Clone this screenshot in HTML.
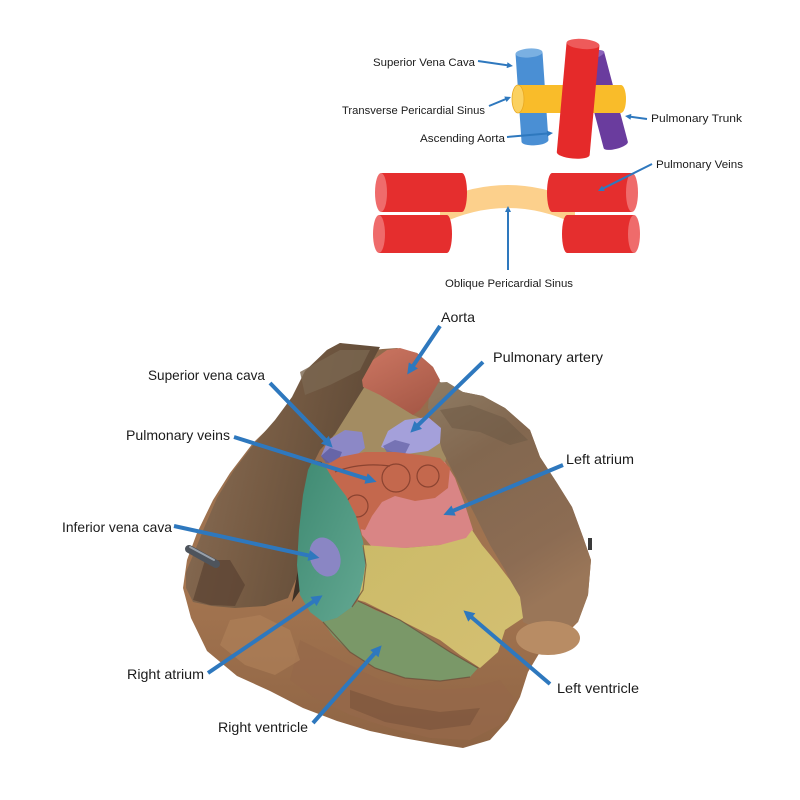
<!DOCTYPE html>
<html>
<head>
<meta charset="utf-8">
<style>
html,body{margin:0;padding:0;background:#fff;}
svg{display:block;}
text{font-family:"Liberation Sans",sans-serif;fill:#1b1b1b;}
</style>
</head>
<body>
<svg width="800" height="800" viewBox="0 0 800 800" xmlns="http://www.w3.org/2000/svg">
<defs>
  <marker id="ab" viewBox="0 0 10 10" refX="5" refY="5" markerWidth="12" markerHeight="11" markerUnits="userSpaceOnUse" orient="auto">
    <path d="M0,0 L10,5 L0,10 z" fill="#2e78be"/>
  </marker>
  <marker id="as" viewBox="0 0 10 10" refX="5" refY="5" markerWidth="7" markerHeight="6" markerUnits="userSpaceOnUse" orient="auto">
    <path d="M0,0 L10,5 L0,10 z" fill="#2e78be"/>
  </marker>
  <linearGradient id="gBase" x1="0" y1="0" x2="0" y2="1">
    <stop offset="0" stop-color="#8f6a4c"/>
    <stop offset="0.6" stop-color="#a47550"/>
    <stop offset="1" stop-color="#8e6444"/>
  </linearGradient>
  <linearGradient id="gLeft" x1="0" y1="0" x2="1" y2="0.3">
    <stop offset="0" stop-color="#8c7058"/>
    <stop offset="0.5" stop-color="#775c44"/>
    <stop offset="1" stop-color="#5e4936"/>
  </linearGradient>
  <linearGradient id="gRight" x1="0" y1="0" x2="0.4" y2="1">
    <stop offset="0" stop-color="#8e7c64"/>
    <stop offset="0.35" stop-color="#82674f"/>
    <stop offset="0.8" stop-color="#8c6c53"/>
    <stop offset="1" stop-color="#9a7658"/>
  </linearGradient>
  <linearGradient id="gAorta" x1="0" y1="0" x2="0.6" y2="1">
    <stop offset="0" stop-color="#cc7662"/>
    <stop offset="1" stop-color="#a85a48"/>
  </linearGradient>
  <linearGradient id="gYel" x1="0" y1="0" x2="1" y2="1">
    <stop offset="0" stop-color="#cbba68"/>
    <stop offset="1" stop-color="#d4c072"/>
  </linearGradient>
  <linearGradient id="gTeal" x1="0" y1="0" x2="1" y2="1">
    <stop offset="0" stop-color="#3f8a72"/>
    <stop offset="1" stop-color="#63a892"/>
  </linearGradient>
</defs>

<!-- ================= TOP DIAGRAM ================= -->
<path d="M440,200 Q508,170 575,200 L575,224 Q508,192 440,224 Z" fill="#fcd08c"/>

<path d="M381,173 L462,173 A5,19.5 0 0 1 462,212 L381,212 Z" fill="#e52e2e"/>
<ellipse cx="381" cy="192.5" rx="6" ry="19.5" fill="#ef6b6b"/>
<path d="M379,215 L447,215 A5,19 0 0 1 447,253 L379,253 Z" fill="#e52e2e"/>
<ellipse cx="379" cy="234" rx="6" ry="19" fill="#ef6b6b"/>
<path d="M552,173 L632,173 L632,212 L552,212 A5,19.5 0 0 1 552,173 Z" fill="#e52e2e"/>
<ellipse cx="632" cy="192.5" rx="6" ry="19.5" fill="#ef6b6b"/>
<path d="M567,215 L634,215 L634,253 L567,253 A5,19 0 0 1 567,215 Z" fill="#e52e2e"/>
<ellipse cx="634" cy="234" rx="6" ry="19" fill="#ef6b6b"/>

<g transform="translate(592,55) rotate(-14.8)">
  <path d="M-12.5,0 L-12.5,93 A12.5,4 0 0 0 12.5,93 L12.5,0 Z" fill="#6a3c9e"/>
  <ellipse cx="0" cy="0" rx="12.5" ry="4" fill="#8a62bb"/>
</g>
<g transform="translate(529,53) rotate(-3.9)">
  <path d="M-13.5,0 L-13.5,88 A13.5,4.5 0 0 0 13.5,88 L13.5,0 Z" fill="#4a8fd4"/>
  <ellipse cx="0" cy="0" rx="13.5" ry="4.5" fill="#7ab0e2"/>
</g>
<path d="M518,85 L621,85 A5,14 0 0 1 621,113 L518,113 Z" fill="#f9bc2a"/>
<ellipse cx="518" cy="99" rx="6" ry="14" fill="#fbd160" stroke="#e8a820" stroke-width="0.8"/>
<g transform="translate(583,44) rotate(5.1)">
  <path d="M-16.5,0 L-16.5,110 A16.5,5 0 0 0 16.5,110 L16.5,0 Z" fill="#e52a2a"/>
  <ellipse cx="0" cy="0" rx="16.5" ry="5" fill="#ee5a5a"/>
</g>

<g stroke="#2e78be" stroke-width="2" fill="none" marker-end="url(#as)">
  <line x1="478" y1="61" x2="510" y2="65.6"/>
  <line x1="489" y1="106" x2="508.2" y2="98.1"/>
  <line x1="507" y1="137" x2="550" y2="133.3"/>
  <line x1="647" y1="119" x2="628" y2="116.4"/>
  <line x1="652" y1="164" x2="600.7" y2="189.7"/>
  <line x1="508" y1="270" x2="508" y2="209"/>
</g>

<g font-size="11">
  <text x="373" y="66" textLength="102" lengthAdjust="spacingAndGlyphs">Superior Vena Cava</text>
  <text x="342" y="114" textLength="143" lengthAdjust="spacingAndGlyphs">Transverse Pericardial Sinus</text>
  <text x="420" y="142" textLength="85" lengthAdjust="spacingAndGlyphs">Ascending Aorta</text>
  <text x="651" y="122" textLength="91" lengthAdjust="spacingAndGlyphs">Pulmonary Trunk</text>
  <text x="656" y="168" textLength="87" lengthAdjust="spacingAndGlyphs">Pulmonary Veins</text>
  <text x="445" y="287" textLength="128" lengthAdjust="spacingAndGlyphs">Oblique Pericardial Sinus</text>
</g>

<!-- ================= SPECIMEN ================= -->
<path d="M340,343 L370,350 L397,348 L417,353 L433,367 L440,382 L463,392 L483,396 L505,408 L530,430 L540,457 L557,483 L572,507 L583,537 L591,560 L588,595 L578,622 L560,640 L540,652 L528,672 L520,697 L508,720 L490,740 L463,748 L437,744 L403,738 L370,731 L337,721 L303,708 L270,691 L237,676 L207,651 L191,618 L183,588 L187,560 L197,533 L213,500 L230,473 L253,443 L280,417 L297,393 L310,367 L327,350 Z" fill="url(#gBase)"/>
<path d="M300,640 L340,660 L380,680 L420,690 L470,688 L500,680 L515,700 L500,725 L470,740 L430,738 L390,728 L350,715 L315,698 L290,680 Z" fill="#95684a" opacity="0.7"/>
<path d="M230,620 L260,615 L290,630 L300,660 L275,675 L245,665 L220,645 Z" fill="#b0825a" opacity="0.6"/>
<path d="M350,690 L395,705 L440,712 L480,708 L470,725 L430,730 L385,722 L350,708 Z" fill="#6e4c36" opacity="0.45"/>

<path d="M345,400 L365,385 L413,415 L437,425 L452,440 L445,462 L400,462 L350,464 L328,452 Z" fill="#a38c62"/>

<path d="M327,350 L340,343 L380,347 L372,362 L365,386 L350,410 L335,434 L320,450 L312,466 L310,500 L308,532 L300,570 L288,598 L265,606 L235,608 L212,606 L193,602 L186,588 L186,572 L194,553 L204,528 L217,498 L234,470 L254,444 L275,420 L292,397 L305,371 Z" fill="url(#gLeft)"/>
<path d="M300,372 L340,350 L370,350 L360,370 L330,385 L305,395 Z" fill="#7a6650" opacity="0.8"/>
<path d="M205,560 L230,560 L245,585 L235,606 L210,605 L193,600 Z" fill="#5a4232" opacity="0.7"/>
<path d="M312,460 L322,462 L318,500 L312,545 L304,585 L292,602 L298,570 L306,530 L308,495 Z" fill="#3f3126"/>

<path d="M430,383 L447,382 L463,392 L483,396 L505,408 L530,430 L540,457 L557,483 L572,507 L583,537 L591,560 L588,595 L578,622 L560,632 L540,630 L523,622 L520,600 L505,570 L490,545 L475,515 L462,490 L452,470 L442,450 L436,428 L428,408 Z" fill="url(#gRight)"/>
<path d="M440,410 L470,405 L505,418 L528,440 L510,445 L480,432 L452,428 Z" fill="#6e5a46" opacity="0.55"/>
<ellipse cx="548" cy="638" rx="32" ry="17" fill="#b88c64"/>

<path d="M362,380 L373,360 L387,350 L400,348 L417,353 L433,367 L440,380 L430,397 L420,410 L413,415 L400,407 L380,395 L363,387 Z" fill="url(#gAorta)"/>

<path d="M321,456 L328,440 L345,430 L362,432 L365,448 L352,459 L330,463 Z" fill="#8c88c6"/>
<path d="M321,456 L330,448 L342,452 L338,462 L326,463 Z" fill="#5e5ca0" opacity="0.8"/>
<path d="M381,447 L388,431 L405,420 L428,417 L441,428 L440,443 L428,451 L400,455 Z" fill="#a4a0da"/>
<path d="M383,446 L395,440 L410,444 L405,454 L388,454 Z" fill="#6a68aa" opacity="0.8"/>

<path d="M355,505 L360,470 L380,462 L420,458 L445,462 L455,478 L465,505 L473,530 L466,540 L440,545 L405,548 L372,547 L362,535 Z" fill="#d98585"/>
<path d="M325,466 L340,457 L365,452 L395,452 L420,455 L440,458 L450,468 L448,488 L435,498 L415,501 L395,496 L382,502 L372,516 L365,530 L355,528 L350,510 L338,492 L328,480 Z" fill="#c4684d"/>
<g fill="none" stroke="#7d3a2a" stroke-width="1.2" opacity="0.8">
  <circle cx="357" cy="506" r="11"/>
  <circle cx="396" cy="478" r="14"/>
  <circle cx="428" cy="476" r="11"/>
  <path d="M335,472 Q360,462 390,466"/>
</g>

<path d="M312,462 L325,466 L333,479 L346,496 L356,516 L363,541 L366,566 L363,590 L352,607 L337,618 L323,622 L310,612 L300,595 L297,565 L299,530 L303,495 L308,470 Z" fill="url(#gTeal)"/>
<ellipse cx="325" cy="557" rx="15" ry="20" transform="rotate(-20 325 557)" fill="#8a86c4"/>

<path d="M362,545 L405,548 L440,545 L466,538 L472,530 L482,545 L497,563 L510,580 L520,597 L523,618 L505,630 L498,652 L480,668 L460,655 L440,640 L420,630 L400,620 L385,612 L365,602 L358,600 L363,580 L366,560 Z" fill="url(#gYel)"/>
<path d="M323,622 L337,618 L352,607 L358,601 L375,610 L400,620 L425,635 L450,652 L478,668 L470,677 L440,681 L405,678 L375,668 L350,652 L333,636 Z" fill="#7a9868"/>
<g fill="none" stroke="#6a4a38" stroke-width="1.2" opacity="0.7">
  <path d="M358,601 L400,620 L450,652 L478,668"/>
  <path d="M323,622 L350,652 L375,668 L405,678 L440,681 L470,677"/>
  <path d="M363,545 L366,565 L363,590 L352,607"/>
</g>

<line x1="189" y1="549" x2="216" y2="564" stroke="#4e545c" stroke-width="8" stroke-linecap="round"/>
<line x1="190" y1="547" x2="214" y2="560" stroke="#98a0aa" stroke-width="2" stroke-linecap="round"/>
<rect x="588" y="538" width="4" height="12" fill="#3a3a3a"/>

<g stroke="#2e78be" stroke-width="4" fill="none" marker-end="url(#ab)">
  <line x1="440" y1="326" x2="410.3" y2="370"/>
  <line x1="483" y1="362" x2="414.3" y2="428.8"/>
  <line x1="270" y1="383" x2="328.8" y2="443.7"/>
  <line x1="234" y1="437" x2="371.3" y2="480.2"/>
  <line x1="563" y1="465" x2="448.5" y2="512.7"/>
  <line x1="174" y1="526" x2="314.1" y2="556.7"/>
  <line x1="208" y1="673" x2="318" y2="598.4"/>
  <line x1="313" y1="723" x2="378" y2="649.5"/>
  <line x1="550" y1="684" x2="467.6" y2="613.9"/>
</g>

<g font-size="14">
  <text x="441" y="322" textLength="34" lengthAdjust="spacingAndGlyphs">Aorta</text>
  <text x="493" y="362" textLength="110" lengthAdjust="spacingAndGlyphs">Pulmonary artery</text>
  <text x="148" y="380" textLength="117" lengthAdjust="spacingAndGlyphs">Superior vena cava</text>
  <text x="126" y="440" textLength="104" lengthAdjust="spacingAndGlyphs">Pulmonary veins</text>
  <text x="566" y="464" textLength="68" lengthAdjust="spacingAndGlyphs">Left atrium</text>
  <text x="62" y="532" textLength="110" lengthAdjust="spacingAndGlyphs">Inferior vena cava</text>
  <text x="127" y="679" textLength="77" lengthAdjust="spacingAndGlyphs">Right atrium</text>
  <text x="557" y="693" textLength="82" lengthAdjust="spacingAndGlyphs">Left ventricle</text>
  <text x="218" y="732" textLength="90" lengthAdjust="spacingAndGlyphs">Right ventricle</text>
</g>
</svg>
</body>
</html>
